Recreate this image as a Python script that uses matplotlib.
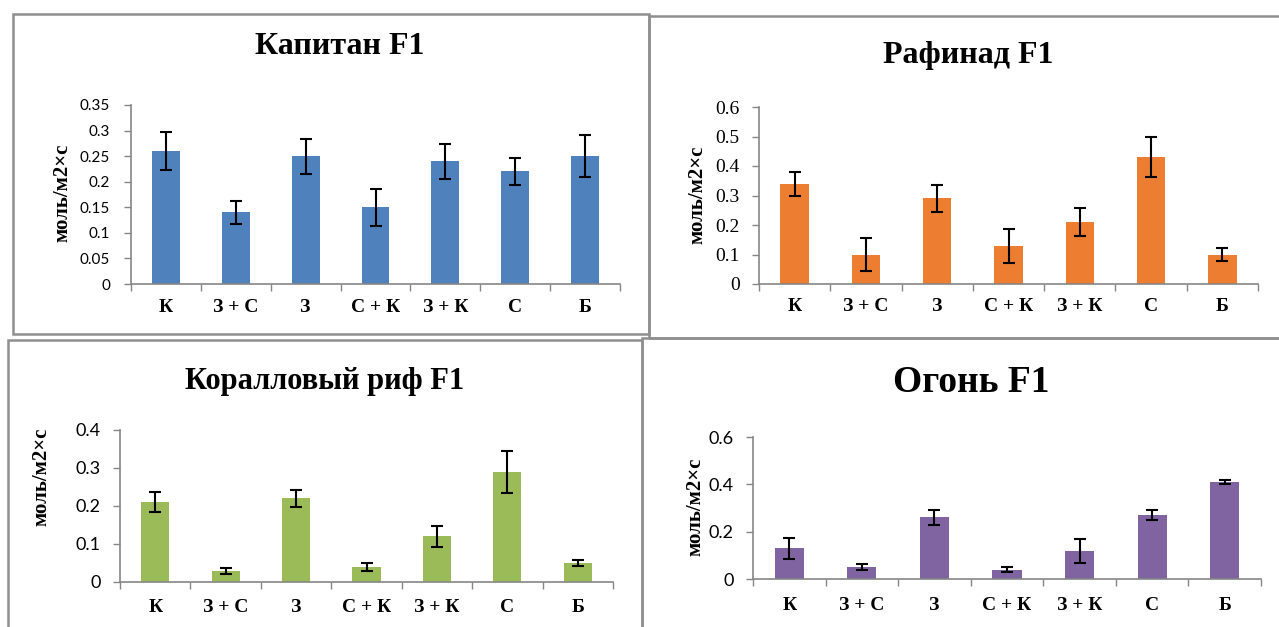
import numpy as np
import matplotlib
matplotlib.use('Agg')
import matplotlib.pyplot as plt
from matplotlib.patches import Rectangle

W, H = 1279, 627

categories = ['К', 'З + С', 'З', 'С + К', 'З + К', 'С', 'Б']

kapitan = [0.26, 0.14, 0.25, 0.15, 0.24, 0.22, 0.25]
kapitan_err = [0.037, 0.023, 0.034, 0.036, 0.034, 0.026, 0.041]

rafinad = [0.34, 0.10, 0.29, 0.13, 0.21, 0.43, 0.10]
rafinad_err = [0.040, 0.055, 0.046, 0.058, 0.047, 0.068, 0.022]

koral = [0.21, 0.03, 0.22, 0.04, 0.12, 0.29, 0.05]
koral_err = [0.027, 0.008, 0.023, 0.011, 0.028, 0.055, 0.009]

ogon = [0.13, 0.05, 0.26, 0.04, 0.12, 0.27, 0.41]
ogon_err = [0.044, 0.012, 0.030, 0.009, 0.051, 0.021, 0.008]

SERIF = 'Liberation Serif'
SANS = 'Lato'
GRAY = '#868686'

fig = plt.figure(figsize=(W / 100, H / 100), dpi=100)


def px_rect(x0, y0, x1, y1):
    # pixel box (top-left origin) -> figure fraction [l, b, w, h]
    return [x0 / W, 1 - y1 / H, (x1 - x0) / W, (y1 - y0) / H]


def border(x0, y0, x1, y1):
    l, b, w, h = px_rect(x0, y0, x1, y1)
    fig.patches.append(Rectangle((l, b), w, h, transform=fig.transFigure,
                                 fill=False, edgecolor='#8f8f8f', lw=1.8))


def panel(box, vals, errs, color, ymax, ystep, title, tpos, tsize,
          lpos, tickfont, ticksize, xpad, ypad):
    ax = fig.add_axes(px_rect(*box))
    x = np.arange(len(categories))
    ax.bar(x, vals, width=0.4, color=color, zorder=2)
    ax.errorbar(x, vals, yerr=errs, fmt='none', ecolor='black', elinewidth=1.5,
                capsize=4, capthick=1.5, zorder=3)
    ax.set_xlim(-0.5, len(categories) - 0.5)
    ax.set_ylim(0, ymax)
    yt = np.arange(0, ymax + ystep / 2, ystep)
    ax.set_yticks(yt)
    ax.set_yticklabels([f'{v:g}' for v in yt], fontfamily=tickfont, fontsize=ticksize)
    ax.set_xticks(np.arange(-0.5, len(categories), 1))
    ax.set_xticklabels([])
    ax.set_xticks(x, minor=True)
    ax.set_xticklabels(categories, minor=True, fontfamily=SERIF,
                       fontweight='bold', fontsize=14)
    ax.tick_params(axis='x', which='major', length=5, color=GRAY, width=1)
    ax.tick_params(axis='x', which='minor', length=0, pad=xpad)
    ax.tick_params(axis='y', length=5, color=GRAY, width=1, pad=ypad)
    for s in ['top', 'right']:
        ax.spines[s].set_visible(False)
    for s in ['left', 'bottom']:
        ax.spines[s].set_color(GRAY)
        ax.spines[s].set_linewidth(1.2)
    fig.text(tpos[0] / W, 1 - tpos[1] / H, title, ha='center', va='center',
             fontfamily=SERIF, fontweight='bold', fontsize=tsize)
    fig.text(lpos[0] / W, 1 - lpos[1] / H, 'моль/м2×с', ha='center', va='center',
             rotation=90, fontfamily=SERIF, fontweight='bold', fontsize=15)
    return ax


# panel frames
border(13, 14, 649, 334)
border(649, 16, 1285, 338)
border(8, 340, 642, 635)
border(642, 338, 1285, 635)

panel((131, 105, 620, 284), kapitan, kapitan_err, '#4F81BD', 0.35, 0.05,
      'Капитан F1', (340, 46), 23, (62, 193), SANS, 11, 11, 10)
panel((759, 107, 1258, 284), rafinad, rafinad_err, '#ED7D31', 0.6, 0.1,
      'Рафинад F1', (968, 56), 23, (697, 195), SERIF, 14, 10, 9)
panel((120, 430, 613, 582), koral, koral_err, '#9BBB59', 0.4, 0.1,
      'Коралловый риф F1', (325, 381), 22, (41, 477), SANS, 13, 12, 9)
panel((753, 437, 1261, 579), ogon, ogon_err, '#8064A2', 0.6, 0.2,
      'Огонь F1', (971, 383), 27, (695, 507), SANS, 13, 13, 9)

fig.savefig('out.png', dpi=100)
